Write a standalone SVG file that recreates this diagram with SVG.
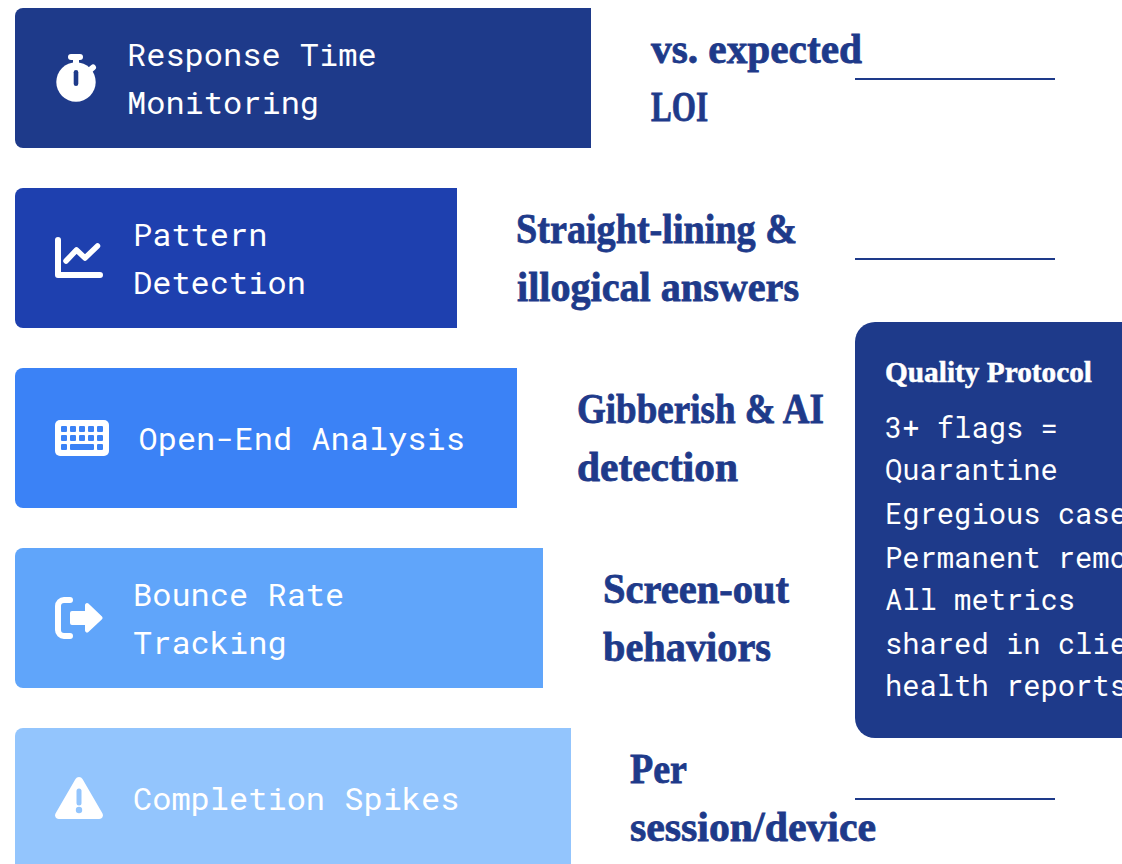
<svg xmlns="http://www.w3.org/2000/svg" width="1122" height="864" viewBox="0 0 1122 864">
<style>
.m{font-family:"Roboto Mono","DejaVu Sans Mono","Liberation Mono",monospace;font-size:32px;font-weight:400;fill:#fff}
.b{font-family:"Roboto Mono","DejaVu Sans Mono","Liberation Mono",monospace;font-size:28.8px;font-weight:400;fill:#fff}
.h{font-family:"Liberation Serif","DejaVu Serif",serif;font-weight:700;font-size:42px;fill:#1e3a8a;stroke:#1e3a8a;stroke-width:.8}
.q{font-family:"Liberation Serif","DejaVu Serif",serif;font-weight:700;font-size:30px;fill:#fff;stroke:#fff;stroke-width:.5}
.c{stroke:#1e3a8a;stroke-width:2;fill:none}
.i{fill:#fff}
.s{fill:none;stroke:#fff;stroke-linecap:round;stroke-linejoin:round}
</style>
<rect width="1122" height="864" fill="#fff"/>
<g id="connectors">
<line class="c" x1="855" y1="79" x2="1055" y2="79"/>
<line class="c" x1="855" y1="259" x2="1055" y2="259"/>
<line class="c" x1="855" y1="799" x2="1055" y2="799"/>
</g>
<g id="node-response">
<path d="M23 8H591V148H23a8 8 0 0 1-8-8V16a8 8 0 0 1 8-8z" fill="#1e3a8a"/>
<circle class="i" cx="76" cy="82" r="19.700"/>
<rect class="i" x="68" y="54" width="15" height="6" rx="3"/><rect class="i" x="73" y="58" width="6" height="8"/>
<path class="s" stroke-width="6" d="M90 70L93 67.500"/>
<rect x="73.700" y="70" width="4.600" height="16" rx="2.300" fill="#1e3a8a"/>
<text class="m" x="127" y="66">Response Time</text><text class="m" x="127" y="114">Monitoring</text>
</g>
<g id="node-pattern">
<path d="M23 188H457V328H23a8 8 0 0 1-8-8V196a8 8 0 0 1 8-8z" fill="#1e40af"/>
<path class="s" stroke-width="6" d="M58 240V275H100"/>
<path class="s" stroke-width="5.500" d="M66 261L76.500 250L85 258L97.500 246"/>
<text class="m" x="133" y="246">Pattern</text><text class="m" x="133" y="294">Detection</text>
</g>
<g id="node-openend">
<path d="M23 368H517V508H23a8 8 0 0 1-8-8V376a8 8 0 0 1 8-8z" fill="#3b82f6"/>
<rect class="i" x="55" y="420" width="54" height="36" rx="5"/>
<g fill="#3b82f6">
<rect x="61" y="426" width="6" height="6" rx="1"/><rect x="70" y="426" width="6" height="6" rx="1"/><rect x="79" y="426" width="6" height="6" rx="1"/><rect x="88" y="426" width="6" height="6" rx="1"/><rect x="97" y="426" width="6" height="6" rx="1"/>
<rect x="61" y="435" width="6" height="6" rx="1"/><rect x="70" y="435" width="6" height="6" rx="1"/><rect x="79" y="435" width="6" height="6" rx="1"/><rect x="88" y="435" width="6" height="6" rx="1"/><rect x="97" y="435" width="6" height="6" rx="1"/>
<rect x="61" y="444" width="6" height="6" rx="1"/><rect x="70" y="444" width="24" height="6" rx="1"/><rect x="97" y="444" width="6" height="6" rx="1"/>
</g>
<text class="m" x="138.500" y="450">Open-End Analysis</text>
</g>
<g id="node-bounce">
<path d="M23 548H543V688H23a8 8 0 0 1-8-8V556a8 8 0 0 1 8-8z" fill="#60a5fa"/>
<path class="s" stroke-width="6" d="M70 600H64a6 6 0 0 0-6 6V630a6 6 0 0 0 6 6H70"/>
<path class="i" d="M72 611H85V605a2 2 0 0 1 3.400-1.400L102 616.500a2 2 0 0 1 0 2.800L88.400 632a2 2 0 0 1-3.400-1.400V625H72a2 2 0 0 1-2-2V613a2 2 0 0 1 2-2z"/>
<text class="m" x="133" y="606">Bounce Rate</text><text class="m" x="133" y="654">Tracking</text>
</g>
<g id="node-completion">
<path d="M23 728H571V864H15V736a8 8 0 0 1 8-8z" fill="#93c5fd"/>
<path class="i" d="M75.500 779a4 4 0 0 1 7 0L102.500 813.500a3.700 3.700 0 0 1-3.200 5.500H58.700a3.700 3.700 0 0 1-3.200-5.500z"/>
<path d="M79 791V803" stroke="#93c5fd" stroke-width="5" stroke-linecap="round"/><circle cx="79" cy="810" r="3.200" fill="#93c5fd"/>
<text class="m" x="133" y="810">Completion Spikes</text>
</g>
<g id="label-response"><text class="h" x="651" y="63" textLength="211" lengthAdjust="spacingAndGlyphs">vs. expected</text><text class="h" x="651" y="121" textLength="57" lengthAdjust="spacingAndGlyphs">LOI</text></g>
<g id="label-pattern"><text class="h" x="516" y="243" textLength="281" lengthAdjust="spacingAndGlyphs">Straight-lining &amp;</text><text class="h" x="517" y="301" textLength="282" lengthAdjust="spacingAndGlyphs">illogical answers</text></g>
<g id="label-openend"><text class="h" x="577" y="423" textLength="247" lengthAdjust="spacingAndGlyphs">Gibberish &amp; AI</text><text class="h" x="577" y="481" textLength="161" lengthAdjust="spacingAndGlyphs">detection</text></g>
<g id="label-bounce"><text class="h" x="603" y="603" textLength="186" lengthAdjust="spacingAndGlyphs">Screen-out</text><text class="h" x="603" y="661" textLength="168" lengthAdjust="spacingAndGlyphs">behaviors</text></g>
<g id="label-completion"><text class="h" x="630" y="783" textLength="57" lengthAdjust="spacingAndGlyphs">Per</text><text class="h" x="630" y="841" textLength="246" lengthAdjust="spacingAndGlyphs">session/device</text></g>
<g id="node-protocol">
<rect x="855" y="322" width="300" height="416" rx="20" fill="#1e3a8a"/>
<text class="q" x="885" y="382" textLength="207" lengthAdjust="spacingAndGlyphs">Quality Protocol</text>
<text class="b" x="885" y="438">3+ flags =</text>
<text class="b" x="885" y="480">Quarantine</text>
<text class="b" x="885" y="524">Egregious case</text>
<text class="b" x="885" y="568">Permanent remo</text>
<text class="b" x="885" y="610">All metrics</text>
<text class="b" x="885" y="654">shared in clie</text>
<text class="b" x="885" y="696">health reports</text>
</g>
</svg>
